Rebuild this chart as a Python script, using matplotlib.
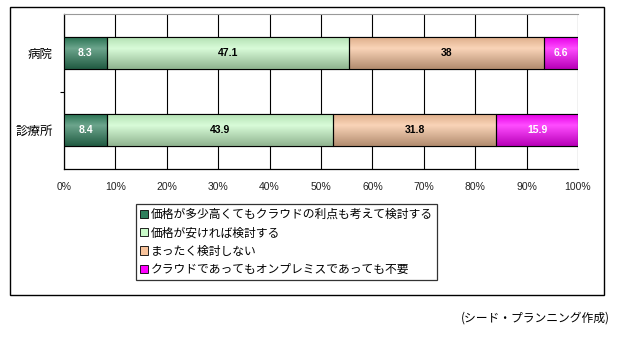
import matplotlib

matplotlib.use("Agg")
import matplotlib.pyplot as plt
import numpy as np
from matplotlib.colors import to_rgb
from matplotlib.patches import Rectangle

plt.rcParams["font.family"] = ["Noto Sans CJK JP", "DejaVu Sans"]

categories = ["病院", "診療所"]
series_names = [
    "価格が多少高くてもクラウドの利点も考えて検討する",
    "価格が安ければ検討する",
    "まったく検討しない",
    "クラウドであってもオンプレミスであっても不要",
]
values = [
    [8.3, 8.4],
    [47.1, 43.9],
    [38, 31.8],
    [6.6, 15.9],
]
colors = ["#2e7f5c", "#c8fac8", "#f7c29a", "#ff00ff"]
label_colors = ["white", "black", "black", "white"]
x_ticks = list(range(0, 101, 10))


def shaded(color, n=64):
    # vertical shading: a bit dark at the top, light band, darker at the bottom
    c = np.array(to_rgb(color))
    white = np.ones(3)
    t = np.linspace(0, 1, n)[:, None]
    top = c * 0.9
    mid = c + (white - c) * 0.3
    bot = c * 0.72
    k = 0.35
    grad = np.where(t < k, top + (mid - top) * (t / k),
                    mid + (bot - mid) * ((t - k) / (1 - k)))
    return np.clip(grad, 0, 1)[:, None, :]


W, H = 617, 337
fig = plt.figure(figsize=(W / 100, H / 100), dpi=100)
ax = fig.add_axes([64 / W, 1 - 169 / H, (578 - 64) / W, (169 - 14) / H])

ypos = list(range(len(categories)))
left = [0.0] * len(categories)
for vals, col, tcol, name in zip(values, colors, label_colors, series_names):
    bars = ax.barh(ypos, vals, left=left, height=0.41, color=col,
                   edgecolor="black", linewidth=0.8, label=name, zorder=3)
    for b, v in zip(bars, vals):
        x0, y0 = b.get_x(), b.get_y()
        w, h = b.get_width(), b.get_height()
        ax.imshow(shaded(col), extent=[x0, x0 + w, y0 + h, y0],
                  aspect="auto", interpolation="bilinear", zorder=3.2)
        ax.add_patch(Rectangle((x0, y0), w, h, fill=False, edgecolor="black",
                               linewidth=0.8, zorder=3.4))
        ax.text(x0 + w / 2, y0 + h / 2, f"{v:g}", ha="center", va="center",
                fontsize=7.5, fontweight="bold", family="Liberation Sans",
                color=tcol, zorder=4)
    left = [l + v for l, v in zip(left, vals)]

ax.set_xlim(0, 100)
ax.set_ylim(1.5, -0.5)
ax.set_xticks(x_ticks)
ax.set_xticklabels([f"{t}%" for t in x_ticks], fontsize=7.5,
                   family="Liberation Sans", color="#222222")
ax.tick_params(axis="x", length=0, pad=9)
ax.grid(axis="x", color="black", linewidth=0.8, zorder=0)

ax.set_yticks([0.5])
ax.set_yticklabels([""])
ax.tick_params(axis="y", which="major", length=3, width=0.8, direction="out")
ax.set_yticks(ypos, minor=True)
ax.set_yticklabels(categories, minor=True, fontsize=9)
ax.tick_params(axis="y", which="minor", length=0, pad=8)

for side in ("left", "bottom"):
    ax.spines[side].set_linewidth(0.9)
ax.spines["top"].set_color("#999999")
ax.spines["right"].set_visible(False)

leg = fig.legend(loc="upper left", bbox_to_anchor=(136 / W, 1 - 204 / H),
                 fontsize=8.5, frameon=True, fancybox=False, handlelength=0.7,
                 handleheight=0.7, handletextpad=0.2, labelspacing=0.45,
                 borderpad=0.35, borderaxespad=0)
leg.get_frame().set_edgecolor("black")
leg.get_frame().set_linewidth(0.9)
for h in leg.legend_handles:
    h.set_linewidth(0.6)

fig.patches.append(Rectangle((10 / W, 1 - 295 / H), (604 - 10) / W, (295 - 7) / H,
                             transform=fig.transFigure, fill=False,
                             edgecolor="black", linewidth=1.0))

fig.text(610 / W, 1 - 318 / H, "(シード・プランニング作成)", ha="right",
         va="center", fontsize=8.5)

fig.savefig("out.png", dpi=100)
